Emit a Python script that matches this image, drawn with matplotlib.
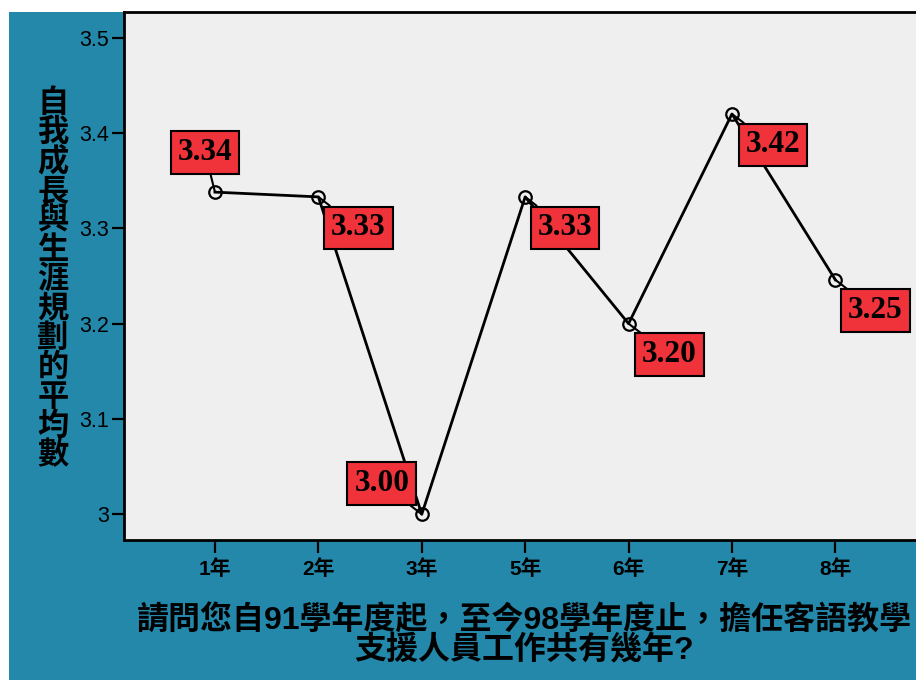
import matplotlib.pyplot as plt
from matplotlib.patches import Rectangle

# 年資分組與平均數
years = ['1年', '2年', '3年', '5年', '6年', '7年', '8年']
means = [3.338, 3.333, 3.000, 3.333, 3.200, 3.420, 3.246]
yticks = [3.0, 3.1, 3.2, 3.3, 3.4, 3.5]
ytick_labels = ['3', '3.1', '3.2', '3.3', '3.4', '3.5']

ylabel = '自我成長與生涯規劃的平均數'
xlabel_1 = '請問您自91學年度起，至今98學年度止，擔任客語教學'
xlabel_2 = '支援人員工作共有幾年?'

teal = '#2388aa'
box_red = '#f0323a'
cjk = ['Liberation Sans', 'Noto Sans CJK TC']

W, H = 916, 680
fig = plt.figure(figsize=(W / 100, H / 100), dpi=100, facecolor='white')

# 藍綠色底
fig.add_artist(Rectangle((9 / W, 0), 1, (H - 12) / H, transform=fig.transFigure,
                         facecolor=teal, edgecolor='none', zorder=0))

ax = fig.add_axes([124 / W, (H - 540) / H, 1 - 124 / W, (540 - 12) / H])
ax.set_facecolor('#efefef')

x = list(range(len(years)))
ax.plot(x, means, color='black', lw=2, marker='o', markersize=9,
        markerfacecolor='none', markeredgecolor='black', markeredgewidth=1.6, zorder=3)

# 數值標籤（像素位移）
offsets = [(-10, 40), (40, -31), (-40, 31), (40, -31), (41, -31), (41, -31), (40, -31)]
for i, (v, off) in enumerate(zip(means, offsets)):
    ax.annotate(f'{v:.2f}', xy=(i, v), xytext=off, textcoords='offset pixels',
                ha='center', va='center', fontsize=22.5, fontweight='bold',
                family='Liberation Serif', color='black', zorder=5,
                bbox=dict(boxstyle='square,pad=0.22', facecolor=box_red,
                          edgecolor='black', lw=1.5),
                arrowprops=dict(arrowstyle='-', color='black', lw=1.5,
                                shrinkA=0, shrinkB=0))

ax.set_xlim(-0.88, 6.78)
ax.set_ylim(2.973, 3.527)
ax.set_xticks(x)
ax.set_xticklabels(years, family=cjk, fontsize=15, fontweight='bold')
ax.set_yticks(yticks)
ax.set_yticklabels(ytick_labels, family='Liberation Sans', fontsize=15.5)
ax.tick_params(axis='both', direction='out', length=9, width=1.6, color='black')
ax.tick_params(axis='y', pad=1.5)
ax.tick_params(axis='x', pad=5)

ax.spines['right'].set_visible(False)
for s in ['left', 'bottom', 'top']:
    ax.spines[s].set_linewidth(2)

# 縱軸標題（直書）
fig.text(53 / W, 1 - 280 / H, '\n'.join(ylabel), ha='center', va='center',
         fontsize=22.5, fontweight='bold', family=cjk, linespacing=0.97)

# 橫軸標題
fig.text(524 / W, 1 - 621 / H, xlabel_1, ha='center', va='center',
         fontsize=23, fontweight='bold', family=cjk)
fig.text(524 / W, 1 - 650 / H, xlabel_2, ha='center', va='center',
         fontsize=23, fontweight='bold', family=cjk)

fig.savefig('out.png', dpi=100, facecolor='white')
